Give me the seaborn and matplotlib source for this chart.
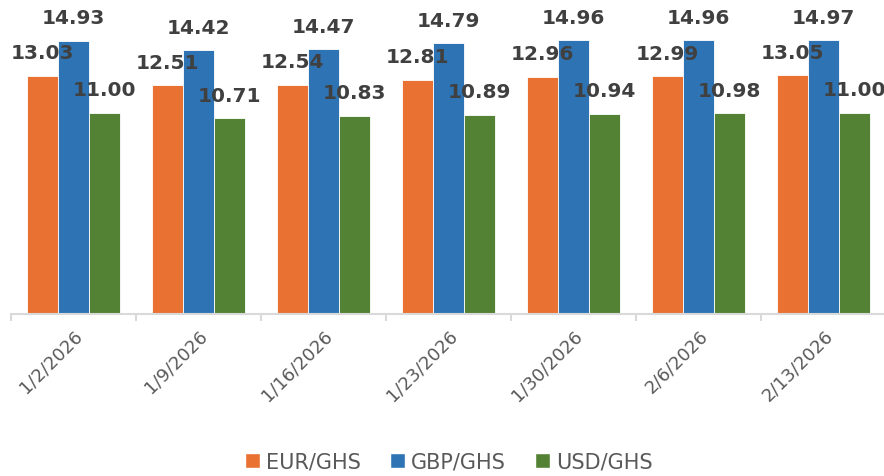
import matplotlib
matplotlib.use("Agg")
import matplotlib.pyplot as plt
import seaborn as sns
import pandas as pd
import numpy as np
from matplotlib.patches import Patch

dates = ["1/2/2026", "1/9/2026", "1/16/2026", "1/23/2026", "1/30/2026", "2/6/2026", "2/13/2026"]
eur = [13.03, 12.51, 12.54, 12.81, 12.96, 12.99, 13.05]
gbp = [14.93, 14.42, 14.47, 14.79, 14.96, 14.96, 14.97]
usd = [11.00, 10.71, 10.83, 10.89, 10.94, 10.98, 11.00]
series = ["EUR/GHS", "GBP/GHS", "USD/GHS"]
colors = ["#E97132", "#2E74B5", "#548235"]

rows = []
for name, vals in zip(series, [eur, gbp, usd]):
    for d, v in zip(dates, vals):
        rows.append({"date": d, "pair": name, "value": v})
df = pd.DataFrame(rows)

sns.set_theme(style="white")
plt.rcParams['font.family'] = ['DejaVu Sans']

fig = plt.figure(figsize=(8.84, 4.76), dpi=100)
ax = fig.add_axes([11/884, 1 - 314/476, 875/884, (314 - 5)/476])

sns.barplot(data=df, x="date", y="value", hue="pair", order=dates, hue_order=series,
            palette=colors, saturation=1, width=0.744, ax=ax, legend=False,
            edgecolor="white", linewidth=0.6)

for c in ax.containers:
    ax.bar_label(c, fmt="%.2f", padding=9, fontsize=14.5, fontweight="bold", color="#404040")

ax.set_xlim(-0.5, len(dates) - 0.5)
ax.set_ylim(0, 309 / 18.3)
ax.set_yticks([])
ax.set_xlabel("")
ax.set_ylabel("")
for s in ["top", "right", "left"]:
    ax.spines[s].set_visible(False)
ax.spines["bottom"].set_color("#D9D9D9")
ax.spines["bottom"].set_linewidth(1.5)

ax.set_xticks(np.arange(len(dates)))
ax.set_xticklabels(dates, rotation=45, ha="right", rotation_mode="anchor",
                   fontsize=13, color="#595959")
ax.set_xticks(np.arange(len(dates) + 1) - 0.5, minor=True)
ax.tick_params(axis="x", which="major", length=0, pad=9)
ax.tick_params(axis="x", which="minor", length=5, width=1.5, color="#D9D9D9", bottom=True)

handles = [Patch(facecolor=c, label=s) for c, s in zip(colors, series)]
fig.legend(handles=handles, loc="center", bbox_to_anchor=(0.508, 1 - 462/476), ncol=3,
           frameon=False, fontsize=15, handlelength=0.7, handleheight=0.7,
           handletextpad=0.3, columnspacing=1.4, labelcolor="#595959")

fig.savefig("out.png", dpi=100)
